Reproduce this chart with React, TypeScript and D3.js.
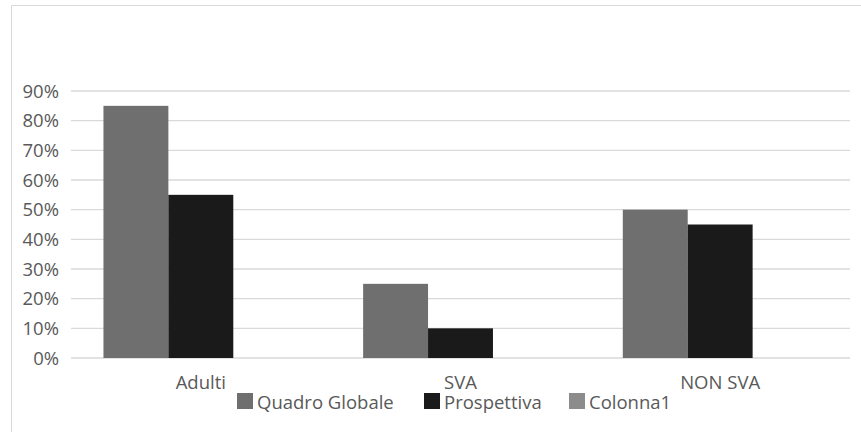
import React from "react";
import * as d3 from "d3";

const categories = ["Adulti", "SVA", "NON SVA"];
const seriesNames = ["Quadro Globale", "Prospettiva", "Colonna1"];
const quadroGlobale = [0.85, 0.25, 0.5];
const prospettiva = [0.55, 0.1, 0.45];
const colonna1: (number | null)[] = [null, null, null];
const yTicks = [0, 0.1, 0.2, 0.3, 0.4, 0.5, 0.6, 0.7, 0.8, 0.9];
const colors = ["#6f6f6f", "#1a1a1a", "#8c8c8c"];

const W = 861;
const H = 432;
const FONT = "'Open Sans', sans-serif";
const FS = 18.5;

export default function App() {
  const plotL = 71;
  const plotR = 850;
  const x0 = d3.scaleBand<string>().domain(categories).range([plotL, plotR]).paddingInner(0).paddingOuter(0);
  const y = d3.scaleLinear().domain([0, 0.9]).range([358, 91]);
  const inner = d3
    .scaleBand<string>()
    .domain(seriesNames)
    .range([0, x0.bandwidth()])
    .paddingInner(0)
    .paddingOuter(0.5);
  const series = [quadroGlobale, prospettiva, colonna1];
  const fmt = d3.format(".0%");

  const legendItems = [
    { name: seriesNames[0], x: 237 },
    { name: seriesNames[1], x: 424 },
    { name: seriesNames[2], x: 569 },
  ];

  return (
    <svg
      width={W}
      height={H}
      style={{ position: "absolute", left: 0, top: 0, background: "#fff" }}
      fontFamily={FONT}
    >
      <line x1={11.5} x2={W} y1={5.5} y2={5.5} stroke="#d9d9d9" strokeWidth={1} />
      <line x1={11.5} x2={11.5} y1={5.5} y2={H} stroke="#d9d9d9" strokeWidth={1} />
      {yTicks.map((t) => (
        <g key={t}>
          <line x1={plotL} x2={plotR} y1={y(t)} y2={y(t)} stroke="#d9d9d9" strokeWidth={1.3} />
          <text x={59} y={y(t)} dy="0.36em" textAnchor="end" fontSize={FS} fill="#595959">
            {fmt(t)}
          </text>
        </g>
      ))}
      {categories.map((c, ci) => (
        <g key={c}>
          {series.map((s, si) => {
            const v = s[ci];
            if (v == null) return null;
            const bx = (x0(c) as number) + (inner(seriesNames[si]) as number);
            return (
              <rect
                key={si}
                x={bx}
                y={y(v)}
                width={inner.bandwidth()}
                height={y(0) - y(v)}
                fill={colors[si]}
              />
            );
          })}
          <text
            x={(x0(c) as number) + x0.bandwidth() / 2}
            y={389}
            textAnchor="middle"
            fontSize={FS}
            fill="#595959"
          >
            {c}
          </text>
        </g>
      ))}
      {legendItems.map((it, i) => (
        <g key={it.name}>
          <rect x={it.x} y={393} width={16} height={16} fill={colors[i]} />
          <text x={it.x + 20} y={409} fontSize={FS} fill="#595959">
            {it.name}
          </text>
        </g>
      ))}
    </svg>
  );
}
